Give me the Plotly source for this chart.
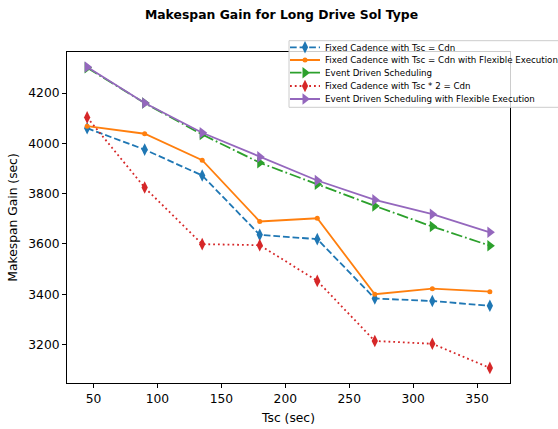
import plotly.graph_objects as go

tsc = [45, 90, 135, 180, 225, 270, 315, 360]
fixed_cdn = [4060, 3975, 3872, 3636, 3619, 3383, 3373, 3354]
fixed_cdn_flex = [4068, 4038, 3933, 3689, 3702, 3400, 3422, 3410]
event_driven = [4300, 4160, 4035, 3923, 3837, 3751, 3669, 3593]
fixed_2cdn = [4103, 3824, 3599, 3595, 3453, 3214, 3203, 3107]
event_driven_flex = [4303, 4160, 4042, 3946, 3852, 3775, 3718, 3646]

names = [
    "Fixed Cadence with Tsc = Cdn",
    "Fixed Cadence with Tsc = Cdn with Flexible Execution",
    "Event Driven Scheduling",
    "Fixed Cadence with Tsc * 2 = Cdn",
    "Event Driven Scheduling with Flexible Execution",
]

W, H = 558, 429
ML, MR, MT, MB = 67, 48, 52, 46
PW, PH = W - ML - MR, H - MT - MB
FONT = "DejaVu Sans"
LW = 1.8

def px_x(x):
    return (x - ML) / PW

def px_y(y):
    return (H - MB - y) / PH

styles = [
    dict(color="#1f77b4", dash="6.7px,2.9px", symbol="diamond-tall", size=9),
    dict(color="#ff7f0e", dash="solid", symbol="circle", size=5),
    dict(color="#2ca02c", dash="11.5px,2.9px,1.8px,2.9px", symbol="triangle-right", size=10),
    dict(color="#d62728", dash="1.8px,3px", symbol="diamond-tall", size=9),
    dict(color="#9467bd", dash="solid", symbol="triangle-right", size=10),
]
series = [fixed_cdn, fixed_cdn_flex, event_driven, fixed_2cdn, event_driven_flex]

fig = go.Figure()
legend_keys = ["legend", "legend2", "legend3", "legend4", "legend5"]
for i, (name, ys, st) in enumerate(zip(names, series, styles)):
    fig.add_trace(go.Scatter(
        x=tsc, y=ys, name=name, mode="lines+markers",
        line=dict(color=st["color"], width=LW, dash=st["dash"]),
        marker=dict(color=st["color"], symbol=st["symbol"], size=st["size"],
                    line=dict(width=0)),
        legend=legend_keys[i],
    ))

legend_centers = [47.3, 60.0, 72.7, 86.0, 99.0]
leg_layout = {}
for key, yc in zip(legend_keys, legend_centers):
    leg_layout[key] = dict(
        x=285 / W, xref="container", xanchor="left",
        y=1 - yc / H, yref="container", yanchor="middle",
        bgcolor="rgba(0,0,0,0)", borderwidth=0,
        font=dict(family=FONT, size=8.7, color="#000000"),
    )

fig.update_layout(
    width=W, height=H,
    margin=dict(l=ML, r=MR, t=MT, b=MB, autoexpand=False),
    paper_bgcolor="white", plot_bgcolor="white",
    font=dict(family=FONT, size=12.3, color="#000000"),
    title=dict(text="Makespan Gain for Long Drive Sol Type",
               font=dict(family=FONT, size=12.4, color="#000000", weight=700),
               x=281.5 / W, xref="container", xanchor="center",
               y=1 - 15 / H, yref="container", yanchor="middle"),
    showlegend=True,
    shapes=[dict(type="rect", xref="paper", yref="paper",
                 x0=px_x(289), x1=px_x(575), y0=px_y(107.3), y1=px_y(40.7),
                 fillcolor="rgba(255,255,255,0.8)",
                 line=dict(color="#cccccc", width=1), layer="above")],
    **leg_layout,
)

axis_common = dict(
    showline=True, linecolor="#000000", linewidth=1, mirror=True,
    ticks="outside", ticklen=4, tickwidth=1, tickcolor="#000000",
    showgrid=False, zeroline=False,
    tickfont=dict(family=FONT, size=12.3, color="#000000"),
)
fig.update_xaxes(range=[29.25, 375.75], tickvals=[50, 100, 150, 200, 250, 300, 350],
                 title=dict(text="Tsc (sec)", standoff=8,
                            font=dict(family=FONT, size=12.3, color="#000000")),
                 **axis_common)
fig.update_yaxes(range=[3047, 4363], tickvals=[3200, 3400, 3600, 3800, 4000, 4200],
                 title=dict(text="Makespan Gain (sec)", standoff=7,
                            font=dict(family=FONT, size=12.3, color="#000000")),
                 **axis_common)

fig.write_html("out.html")
